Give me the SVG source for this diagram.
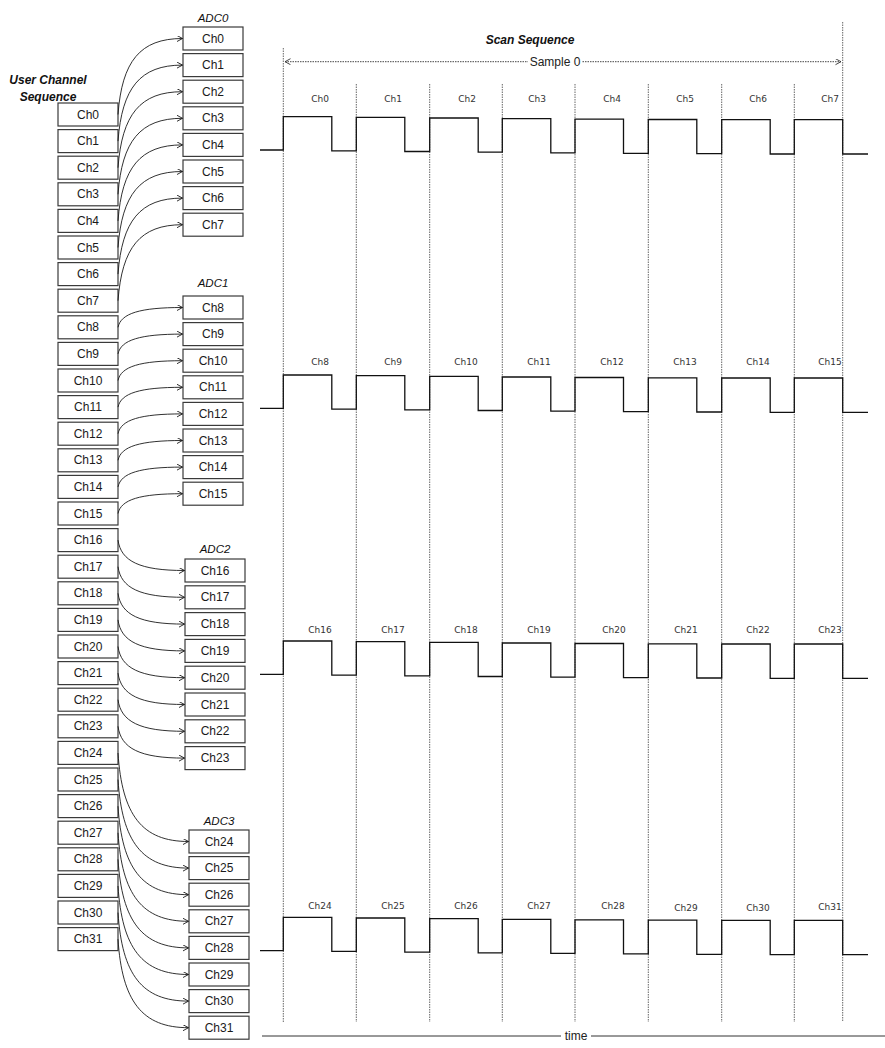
<svg xmlns="http://www.w3.org/2000/svg" xmlns:xlink="http://www.w3.org/1999/xlink" width="885" height="1048" viewBox="0 0 885 1048">
<style>
.box rect{fill:#fff;stroke:#3a3a3a;stroke-width:1.2}
.box text{font-family:"Liberation Sans",Arial,sans-serif;font-size:12px;fill:#1a1a1a;text-anchor:middle}
.title{font-family:"Liberation Sans",Arial,sans-serif;font-size:12px;font-weight:bold;font-style:italic;fill:#111;text-anchor:middle}
.adc{font-family:"Liberation Sans",Arial,sans-serif;font-size:11.5px;font-style:italic;fill:#111;text-anchor:middle}
.conn path{fill:none;stroke:#1a1a1a;stroke-width:0.9;marker-end:url(#arr)}
.wave{fill:none;stroke:#111;stroke-width:1.3}
.grid line{stroke:#555;stroke-width:0.9;stroke-dasharray:1.5 1}
.wl{font-family:"DejaVu Sans",Verdana,sans-serif;font-size:9px;fill:#333;text-anchor:middle}
.axis{font-family:"Liberation Sans",Arial,sans-serif;font-size:12px;fill:#222;text-anchor:middle}
</style>
<defs>
<marker id="arr" markerWidth="7" markerHeight="7" refX="6" refY="3" orient="auto" markerUnits="userSpaceOnUse">
<path d="M0.5,0 L6,3 L0.5,6" fill="none" stroke="#1a1a1a" stroke-width="0.9"/>
</marker>
<marker id="arr2" markerWidth="7" markerHeight="7" refX="6" refY="3" orient="auto-start-reverse" markerUnits="userSpaceOnUse">
<path d="M0.5,0 L6,3 L0.5,6" fill="none" stroke="#333" stroke-width="0.9"/>
</marker>
<path id="wf" d="M260,150 H283.3 V116.7 H331.8 V150.8 H356.3 V117.4 H404.8 V151.5 H429.7 V118 H478.2 V152.2 H502.3 V118.7 H550.8 V152.8 H575 V119.2 H623.5 V153.3 H648.3 V119.5 H696.8 V153.7 H721.7 V119.7 H770.2 V154 H794.3 V119.7 H842.7 V154 H868"/>
</defs>
<rect width="885" height="1048" fill="#fff"/>

<!-- titles -->
<text class="title" x="48" y="84">User Channel</text>
<text class="title" x="48" y="101">Sequence</text>
<text class="title" x="530" y="44" font-size="11.5px">Scan Sequence</text>
<text class="adc" x="213" y="22">ADC0</text>
<text class="adc" x="213" y="287">ADC1</text>
<text class="adc" x="215" y="553">ADC2</text>
<text class="adc" x="219" y="825">ADC3</text>

<!-- user channel sequence -->
<g class="box">
<g id="u0"><rect x="58" y="103" width="60" height="23"/><text x="88" y="118.5">Ch0</text></g>
<g id="u1"><rect x="58" y="129.6" width="60" height="23"/><text x="88" y="145.1">Ch1</text></g>
<g id="u2"><rect x="58" y="156.2" width="60" height="23"/><text x="88" y="171.7">Ch2</text></g>
<g id="u3"><rect x="58" y="182.8" width="60" height="23"/><text x="88" y="198.3">Ch3</text></g>
<g id="u4"><rect x="58" y="209.4" width="60" height="23"/><text x="88" y="224.9">Ch4</text></g>
<g id="u5"><rect x="58" y="236" width="60" height="23"/><text x="88" y="251.5">Ch5</text></g>
<g id="u6"><rect x="58" y="262.6" width="60" height="23"/><text x="88" y="278.1">Ch6</text></g>
<g id="u7"><rect x="58" y="289.2" width="60" height="23"/><text x="88" y="304.7">Ch7</text></g>
<g id="u8"><rect x="58" y="315.8" width="60" height="23"/><text x="88" y="331.3">Ch8</text></g>
<g id="u9"><rect x="58" y="342.4" width="60" height="23"/><text x="88" y="357.9">Ch9</text></g>
<g id="u10"><rect x="58" y="369" width="60" height="23"/><text x="88" y="384.5">Ch10</text></g>
<g id="u11"><rect x="58" y="395.6" width="60" height="23"/><text x="88" y="411.1">Ch11</text></g>
<g id="u12"><rect x="58" y="422.2" width="60" height="23"/><text x="88" y="437.7">Ch12</text></g>
<g id="u13"><rect x="58" y="448.8" width="60" height="23"/><text x="88" y="464.3">Ch13</text></g>
<g id="u14"><rect x="58" y="475.4" width="60" height="23"/><text x="88" y="490.9">Ch14</text></g>
<g id="u15"><rect x="58" y="502" width="60" height="23"/><text x="88" y="517.5">Ch15</text></g>
<g id="u16"><rect x="58" y="528.6" width="60" height="23"/><text x="88" y="544.1">Ch16</text></g>
<g id="u17"><rect x="58" y="555.2" width="60" height="23"/><text x="88" y="570.7">Ch17</text></g>
<g id="u18"><rect x="58" y="581.8" width="60" height="23"/><text x="88" y="597.3">Ch18</text></g>
<g id="u19"><rect x="58" y="608.4" width="60" height="23"/><text x="88" y="623.9">Ch19</text></g>
<g id="u20"><rect x="58" y="635" width="60" height="23"/><text x="88" y="650.5">Ch20</text></g>
<g id="u21"><rect x="58" y="661.6" width="60" height="23"/><text x="88" y="677.1">Ch21</text></g>
<g id="u22"><rect x="58" y="688.2" width="60" height="23"/><text x="88" y="703.7">Ch22</text></g>
<g id="u23"><rect x="58" y="714.8" width="60" height="23"/><text x="88" y="730.3">Ch23</text></g>
<g id="u24"><rect x="58" y="741.4" width="60" height="23"/><text x="88" y="756.9">Ch24</text></g>
<g id="u25"><rect x="58" y="768" width="60" height="23"/><text x="88" y="783.5">Ch25</text></g>
<g id="u26"><rect x="58" y="794.6" width="60" height="23"/><text x="88" y="810.1">Ch26</text></g>
<g id="u27"><rect x="58" y="821.2" width="60" height="23"/><text x="88" y="836.7">Ch27</text></g>
<g id="u28"><rect x="58" y="847.8" width="60" height="23"/><text x="88" y="863.3">Ch28</text></g>
<g id="u29"><rect x="58" y="874.4" width="60" height="23"/><text x="88" y="889.9">Ch29</text></g>
<g id="u30"><rect x="58" y="901" width="60" height="23"/><text x="88" y="916.5">Ch30</text></g>
<g id="u31"><rect x="58" y="927.6" width="60" height="23"/><text x="88" y="943.1">Ch31</text></g>
</g>

<!-- ADC boxes -->
<g class="box">
<g id="a0"><rect x="183" y="27" width="60" height="23"/><text x="213" y="42.5">Ch0</text></g>
<g id="a1"><rect x="183" y="53.6" width="60" height="23"/><text x="213" y="69.1">Ch1</text></g>
<g id="a2"><rect x="183" y="80.2" width="60" height="23"/><text x="213" y="95.7">Ch2</text></g>
<g id="a3"><rect x="183" y="106.8" width="60" height="23"/><text x="213" y="122.3">Ch3</text></g>
<g id="a4"><rect x="183" y="133.4" width="60" height="23"/><text x="213" y="148.9">Ch4</text></g>
<g id="a5"><rect x="183" y="160" width="60" height="23"/><text x="213" y="175.5">Ch5</text></g>
<g id="a6"><rect x="183" y="186.6" width="60" height="23"/><text x="213" y="202.1">Ch6</text></g>
<g id="a7"><rect x="183" y="213.2" width="60" height="23"/><text x="213" y="228.7">Ch7</text></g>
<g id="a8"><rect x="183" y="296" width="60" height="23"/><text x="213" y="311.5">Ch8</text></g>
<g id="a9"><rect x="183" y="322.6" width="60" height="23"/><text x="213" y="338.1">Ch9</text></g>
<g id="a10"><rect x="183" y="349.2" width="60" height="23"/><text x="213" y="364.7">Ch10</text></g>
<g id="a11"><rect x="183" y="375.8" width="60" height="23"/><text x="213" y="391.3">Ch11</text></g>
<g id="a12"><rect x="183" y="402.4" width="60" height="23"/><text x="213" y="417.9">Ch12</text></g>
<g id="a13"><rect x="183" y="429" width="60" height="23"/><text x="213" y="444.5">Ch13</text></g>
<g id="a14"><rect x="183" y="455.6" width="60" height="23"/><text x="213" y="471.1">Ch14</text></g>
<g id="a15"><rect x="183" y="482.2" width="60" height="23"/><text x="213" y="497.7">Ch15</text></g>
<g id="a16"><rect x="185" y="559" width="60" height="23"/><text x="215" y="574.5">Ch16</text></g>
<g id="a17"><rect x="185" y="585.8" width="60" height="23"/><text x="215" y="601.3">Ch17</text></g>
<g id="a18"><rect x="185" y="612.6" width="60" height="23"/><text x="215" y="628.1">Ch18</text></g>
<g id="a19"><rect x="185" y="639.4" width="60" height="23"/><text x="215" y="654.9">Ch19</text></g>
<g id="a20"><rect x="185" y="666.2" width="60" height="23"/><text x="215" y="681.7">Ch20</text></g>
<g id="a21"><rect x="185" y="693" width="60" height="23"/><text x="215" y="708.5">Ch21</text></g>
<g id="a22"><rect x="185" y="719.8" width="60" height="23"/><text x="215" y="735.3">Ch22</text></g>
<g id="a23"><rect x="185" y="746.6" width="60" height="23"/><text x="215" y="762.1">Ch23</text></g>
<g id="a24"><rect x="189" y="830" width="60" height="23"/><text x="219" y="845.5">Ch24</text></g>
<g id="a25"><rect x="189" y="856.6" width="60" height="23"/><text x="219" y="872.1">Ch25</text></g>
<g id="a26"><rect x="189" y="883.2" width="60" height="23"/><text x="219" y="898.7">Ch26</text></g>
<g id="a27"><rect x="189" y="909.8" width="60" height="23"/><text x="219" y="925.3">Ch27</text></g>
<g id="a28"><rect x="189" y="936.4" width="60" height="23"/><text x="219" y="951.9">Ch28</text></g>
<g id="a29"><rect x="189" y="963" width="60" height="23"/><text x="219" y="978.5">Ch29</text></g>
<g id="a30"><rect x="189" y="989.6" width="60" height="23"/><text x="219" y="1005.1">Ch30</text></g>
<g id="a31"><rect x="189" y="1016.2" width="60" height="23"/><text x="219" y="1031.7">Ch31</text></g>
</g>

<!-- connectors -->
<g id="connectors" class="conn">
<path d="M118,114.5 C122,61.3 140,38.5 182.5,38.5"/>
<path d="M118,141.1 C122,87.9 140,65.1 182.5,65.1"/>
<path d="M118,167.7 C122,114.5 140,91.7 182.5,91.7"/>
<path d="M118,194.3 C122,141.1 140,118.3 182.5,118.3"/>
<path d="M118,220.9 C122,167.7 140,144.9 182.5,144.9"/>
<path d="M118,247.5 C122,194.3 140,171.5 182.5,171.5"/>
<path d="M118,274.1 C122,220.9 140,198.1 182.5,198.1"/>
<path d="M118,300.7 C122,247.5 140,224.7 182.5,224.7"/>
<path d="M118,327.3 C121,313.3 140,307.5 182.5,307.5"/>
<path d="M118,353.9 C121,339.9 140,334.1 182.5,334.1"/>
<path d="M118,380.5 C121,366.5 140,360.7 182.5,360.7"/>
<path d="M118,407.1 C121,393.1 140,387.3 182.5,387.3"/>
<path d="M118,433.7 C121,419.7 140,413.9 182.5,413.9"/>
<path d="M118,460.3 C121,446.3 140,440.5 182.5,440.5"/>
<path d="M118,486.9 C121,472.9 140,467.1 182.5,467.1"/>
<path d="M118,513.5 C121,499.5 140,493.7 182.5,493.7"/>
<path d="M118,540.1 C121,561.4 140,570.5 184.5,570.5"/>
<path d="M118,566.7 C121,588.1 140,597.3 184.5,597.3"/>
<path d="M118,593.3 C121,614.9 140,624.1 184.5,624.1"/>
<path d="M118,619.9 C121,641.6 140,650.9 184.5,650.9"/>
<path d="M118,646.5 C121,668.3 140,677.7 184.5,677.7"/>
<path d="M118,673.1 C121,695.1 140,704.5 184.5,704.5"/>
<path d="M118,699.7 C121,721.8 140,731.3 184.5,731.3"/>
<path d="M118,726.3 C121,748.5 140,758.1 184.5,758.1"/>
<path d="M118,753 C122,815 142,841.5 188.5,841.5"/>
<path d="M118,779.6 C122,841.6 142,868.1 188.5,868.1"/>
<path d="M118,806.2 C122,868.2 142,894.7 188.5,894.7"/>
<path d="M118,832.8 C122,894.8 142,921.3 188.5,921.3"/>
<path d="M118,859.4 C122,921.4 142,947.9 188.5,947.9"/>
<path d="M118,886 C122,948 142,974.5 188.5,974.5"/>
<path d="M118,912.6 C122,974.6 142,1001.1 188.5,1001.1"/>
<path d="M118,939.2 C122,1001.2 142,1027.7 188.5,1027.7"/>
</g>

<!-- timing grid -->
<g id="grid" class="grid">
<line x1="283.3" y1="48" x2="283.3" y2="1022"/>
<line x1="356.3" y1="84" x2="356.3" y2="1022"/>
<line x1="429.7" y1="84" x2="429.7" y2="1022"/>
<line x1="502.3" y1="84" x2="502.3" y2="1022"/>
<line x1="575" y1="84" x2="575" y2="1022"/>
<line x1="648.3" y1="84" x2="648.3" y2="1022"/>
<line x1="721.7" y1="84" x2="721.7" y2="1022"/>
<line x1="794.3" y1="84" x2="794.3" y2="1022"/>
<line x1="842.7" y1="22" x2="842.7" y2="1022"/>
</g>

<!-- sample 0 -->
<g id="sample0">
<line x1="285" y1="61.7" x2="841" y2="61.7" stroke="#333" stroke-width="0.9" stroke-dasharray="1.5 1" marker-start="url(#arr2)" marker-end="url(#arr2)"/>
<rect x="528" y="54" width="54" height="15" fill="#fff"/>
<text class="axis" x="555" y="66">Sample 0</text>
</g>

<!-- waveforms -->
<g id="waves">
<use xlink:href="#wf" href="#wf" class="wave"/>
<use xlink:href="#wf" href="#wf" class="wave" transform="translate(0,258.3)"/>
<use xlink:href="#wf" href="#wf" class="wave" transform="translate(0,524.3)"/>
<use xlink:href="#wf" href="#wf" class="wave" transform="translate(0,800.6)"/>
</g>

<g id="wave-labels" class="wl">
<text x="320" y="101.5">Ch0</text><text x="393" y="101.5">Ch1</text><text x="467" y="101.5">Ch2</text><text x="537" y="101.5">Ch3</text><text x="612" y="101.5">Ch4</text><text x="685" y="101.5">Ch5</text><text x="758" y="101.5">Ch6</text><text x="830" y="101.5">Ch7</text>
<text x="320" y="364.5">Ch8</text><text x="393" y="364.5">Ch9</text><text x="466" y="364.5">Ch10</text><text x="539" y="364.5">Ch11</text><text x="612" y="364.5">Ch12</text><text x="685" y="364.5">Ch13</text><text x="758" y="364.5">Ch14</text><text x="830" y="364.5">Ch15</text>
<text x="320" y="632.5">Ch16</text><text x="393" y="632.5">Ch17</text><text x="466" y="632.5">Ch18</text><text x="539" y="632.5">Ch19</text><text x="614" y="632.5">Ch20</text><text x="686" y="632.5">Ch21</text><text x="758" y="632.5">Ch22</text><text x="830" y="632.5">Ch23</text>
<text x="320" y="908.5">Ch24</text><text x="393" y="908.5">Ch25</text><text x="466" y="908.5">Ch26</text><text x="539" y="908.5">Ch27</text><text x="613" y="908.5">Ch28</text><text x="686" y="910.5">Ch29</text><text x="758" y="910.5">Ch30</text><text x="830" y="909.5">Ch31</text>
</g>

<!-- time axis -->
<g id="time">
<line x1="262" y1="1036" x2="885" y2="1036" stroke="#333" stroke-width="1"/>
<rect x="561" y="1029" width="30" height="14" fill="#fff"/>
<text class="axis" x="576" y="1040">time</text>
</g>
</svg>
